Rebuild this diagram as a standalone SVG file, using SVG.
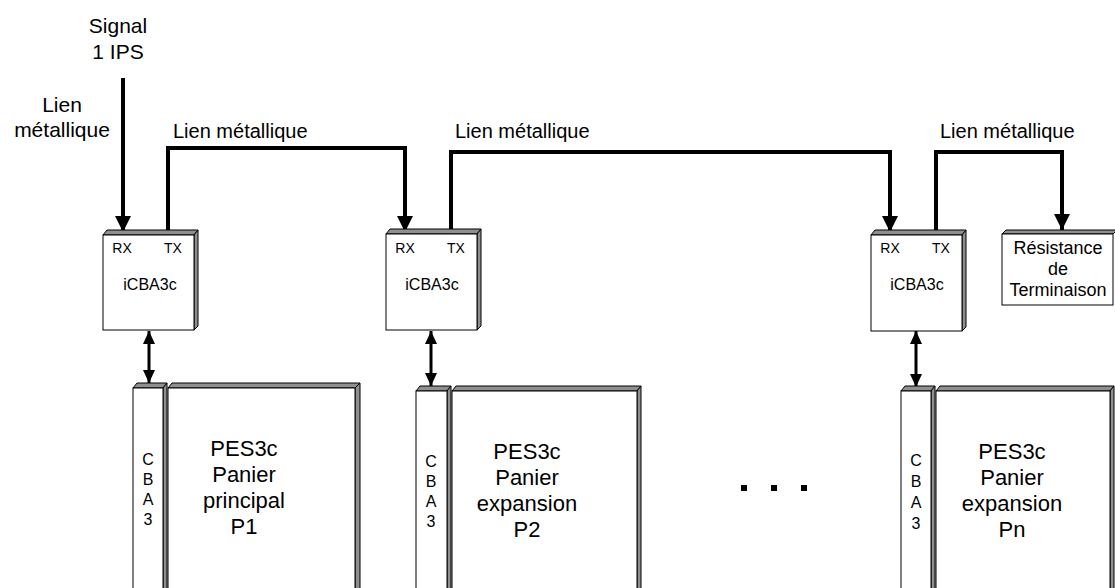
<svg xmlns="http://www.w3.org/2000/svg" width="1115" height="588" viewBox="0 0 1115 588">
<style>
text{font-family:"Liberation Sans",Arial,sans-serif;fill:#000}
.lbl{font-size:21px}
.top{font-size:20px}
.sm{font-size:14px}
.mid{font-size:16px;text-anchor:middle}
.res{font-size:18px;text-anchor:middle}
.big{font-size:22px;text-anchor:middle}
.c{text-anchor:middle}
.front{fill:#fff;stroke:#000;stroke-width:1}
.face{fill:#8f8f8f;stroke:#000;stroke-width:1;stroke-linejoin:round}
.wire{fill:none;stroke:#000;stroke-width:4;stroke-linejoin:miter}
.bus{fill:none;stroke:#000;stroke-width:3}
</style>
<defs>
<marker id="ah" viewBox="0 0 16 16" refX="16" refY="8" markerWidth="16" markerHeight="16" markerUnits="userSpaceOnUse" orient="auto">
<path d="M0,0 L16,8 L0,16 Z" fill="#000"/>
</marker>
<marker id="ahs" viewBox="0 0 13 12" refX="13" refY="6" markerWidth="13" markerHeight="12" markerUnits="userSpaceOnUse" orient="auto-start-reverse">
<path d="M0,0 L13,6 L0,12 Z" fill="#000"/>
</marker>
</defs>

<g id="labels">
<text class="lbl c" x="118" y="33">Signal</text>
<text class="lbl c" x="118" y="59">1 IPS</text>
<text class="lbl c" x="62" y="112">Lien</text>
<text class="lbl c" x="62" y="137">métallique</text>
<text class="top" x="173" y="138">Lien métallique</text>
<text class="top" x="455" y="138">Lien métallique</text>
<text class="top" x="940" y="138">Lien métallique</text>
</g>

<g id="connectors">
<path class="wire" d="M123,78 V232" marker-end="url(#ah)"/>
<path class="wire" d="M168,233 V148 H405 V232" marker-end="url(#ah)"/>
<path class="wire" d="M451,233 V152 H890 V232" marker-end="url(#ah)"/>
<path class="wire" d="M936,233 V152 H1062 V230" marker-end="url(#ah)"/>
<path class="bus" d="M149,331 V383" marker-start="url(#ahs)" marker-end="url(#ahs)"/>
<path class="bus" d="M431,331 V386" marker-start="url(#ahs)" marker-end="url(#ahs)"/>
<path class="bus" d="M916,331 V387" marker-start="url(#ahs)" marker-end="url(#ahs)"/>
</g>

<g id="icba1">
<path class="face" d="M103,235 L107,230 L198,230 L194,235 Z"/>
<path class="face" d="M194,235 L198,230 L198,326 L194,330 Z"/>
<rect class="front" x="103" y="235" width="91" height="95"/>
<text class="sm c" x="122" y="253">RX</text>
<text class="sm c" x="173" y="253">TX</text>
<text class="mid" x="150" y="290">iCBA3c</text>
</g>

<g id="icba2">
<path class="face" d="M386,234 L390,229 L481,229 L477,234 Z"/>
<path class="face" d="M477,234 L481,229 L481,326 L477,330 Z"/>
<rect class="front" x="386" y="234" width="91" height="96"/>
<text class="sm c" x="405" y="253">RX</text>
<text class="sm c" x="456" y="253">TX</text>
<text class="mid" x="432" y="290">iCBA3c</text>
</g>

<g id="icba3">
<path class="face" d="M871,235 L875,230 L966,230 L962,235 Z"/>
<path class="face" d="M962,235 L966,230 L966,327 L962,331 Z"/>
<rect class="front" x="871" y="235" width="91" height="96"/>
<text class="sm c" x="890" y="253">RX</text>
<text class="sm c" x="941" y="253">TX</text>
<text class="mid" x="917" y="290">iCBA3c</text>
</g>

<g id="resistance">
<path class="face" d="M1002,234 L1006,230 L1117,230 L1113,234 Z"/>
<rect class="front" x="1002" y="234" width="111" height="71"/>
<text class="res" x="1058" y="254">Résistance</text>
<text class="res" x="1058" y="275">de</text>
<text class="res" x="1058" y="296">Terminaison</text>
</g>

<g id="panier1">
<path class="face" d="M133,388 L137,383 L167,383 L163,388 Z"/>
<path class="face" d="M163,388 L167,383 L167,600 L163,600 Z"/>
<rect class="front" x="133" y="388" width="30" height="212"/>
<path class="face" d="M168,388 L172,383 L360,383 L355,388 Z"/>
<path class="face" d="M355,388 L360,383 L360,600 L355,600 Z"/>
<rect class="front" x="168" y="388" width="187" height="212"/>
<text class="mid" x="148" y="465">C</text>
<text class="mid" x="148" y="485">B</text>
<text class="mid" x="148" y="505">A</text>
<text class="mid" x="148" y="525">3</text>
<text class="big" x="244" y="456">PES3c</text>
<text class="big" x="244" y="482">Panier</text>
<text class="big" x="244" y="508">principal</text>
<text class="big" x="244" y="534">P1</text>
</g>

<g id="panier2">
<path class="face" d="M416,391 L420,386 L451,386 L447,391 Z"/>
<path class="face" d="M447,391 L451,386 L451,600 L447,600 Z"/>
<rect class="front" x="416" y="391" width="31" height="209"/>
<path class="face" d="M452,391 L456,386 L641,386 L637,391 Z"/>
<path class="face" d="M637,391 L641,386 L641,600 L637,600 Z"/>
<rect class="front" x="452" y="391" width="185" height="209"/>
<text class="mid" x="431" y="467">C</text>
<text class="mid" x="431" y="487">B</text>
<text class="mid" x="431" y="507">A</text>
<text class="mid" x="431" y="527">3</text>
<text class="big" x="527" y="459">PES3c</text>
<text class="big" x="527" y="485">Panier</text>
<text class="big" x="527" y="511">expansion</text>
<text class="big" x="527" y="537">P2</text>
</g>

<g id="dots">
<rect x="741" y="485" width="6" height="6" fill="#000"/>
<rect x="771" y="485" width="6" height="6" fill="#000"/>
<rect x="801" y="485" width="6" height="6" fill="#000"/>
</g>

<g id="panier3">
<path class="face" d="M901,391 L905,386 L935,386 L931,391 Z"/>
<path class="face" d="M931,391 L935,386 L935,600 L931,600 Z"/>
<rect class="front" x="901" y="391" width="30" height="209"/>
<path class="face" d="M936,391 L940,386 L1114,386 L1110,391 Z"/>
<path class="face" d="M1110,391 L1114,386 L1114,600 L1110,600 Z"/>
<rect class="front" x="936" y="391" width="174" height="209"/>
<text class="mid" x="916" y="466">C</text>
<text class="mid" x="916" y="487">B</text>
<text class="mid" x="916" y="508">A</text>
<text class="mid" x="916" y="529">3</text>
<text class="big" x="1012" y="459">PES3c</text>
<text class="big" x="1012" y="485">Panier</text>
<text class="big" x="1012" y="511">expansion</text>
<text class="big" x="1012" y="537">Pn</text>
</g>
</svg>
